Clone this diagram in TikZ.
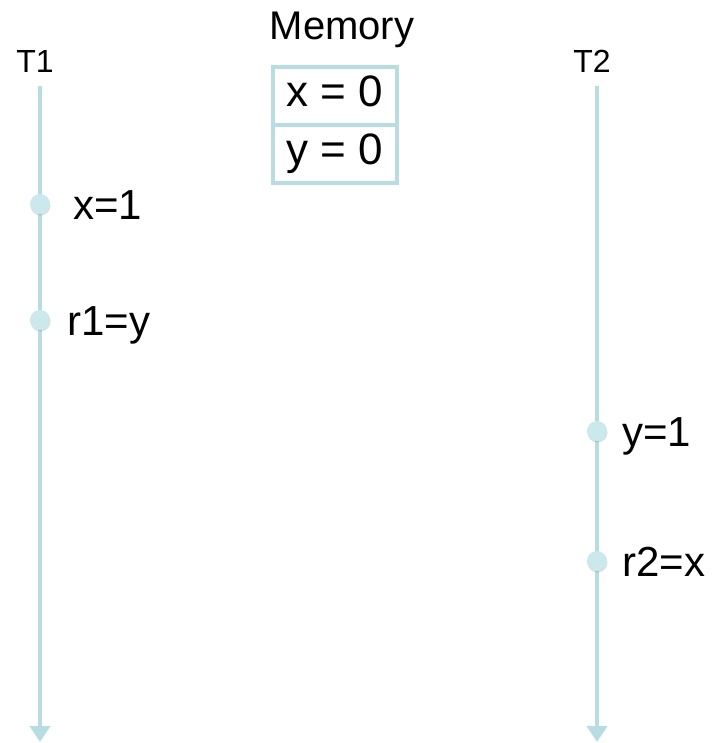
\documentclass[tikz,border=0pt]{standalone}
\usepackage{fontspec}
\setmainfont{Liberation Sans}
\usepackage{tikz}
\usetikzlibrary{positioning,arrows.meta,shadows}
\definecolor{tlteal}{RGB}{183,221,227}
\definecolor{dotteal}{RGB}{203,232,237}

\tikzset{
  tline/.style={tlteal,line width=4pt,-{Triangle[width=20pt,length=16pt]}},
  opdot/.style={circle,fill=dotteal,inner sep=0pt,minimum size=20pt,
    drop shadow={opacity=0.25,shadow xshift=0.5pt,shadow yshift=-1.5pt}},
  oplabel/.style={font=\fontsize{42}{48}\selectfont,inner sep=0pt,anchor=base west},
  thread/.style={font=\fontsize{32}{38}\selectfont,inner sep=0pt,anchor=base},
  memcell/.style={draw=tlteal,line width=4pt,outer sep=0pt,inner sep=0pt,
    minimum width=124pt,minimum height=58pt,text height=32pt,text depth=10pt,
    font=\fontsize{44}{50}\selectfont}
}

\begin{document}
\begin{tikzpicture}[x=1pt,y=-1pt]
      \useasboundingbox (0,0) rectangle (711,743);
      \node[thread] (t1) at (35,73) {T1};
      \node[thread] (t2) at (592,73) {T2};
      \node[font=\fontsize{40}{46}\selectfont,inner sep=0pt,anchor=base] (mem) at (342,40) {Memory};
      \node[memcell] (memx) at (335,96) {x = 0};
      \node[memcell,below=0pt of memx] (memy) {y = 0};
      \coordinate (t1top) at (40,86);
      \coordinate (t1end) at (40,742);
      \coordinate (t2top) at (597,86);
      \coordinate (t2end) at (597,742);
      \draw[tline] (t1top) -- (t1end);
      \draw[tline] (t2top) -- (t2end);
      \node[opdot] (wx) at (40,204) {};
      \node[opdot] (ry) at (40,320) {};
      \node[opdot] (wy) at (597,431) {};
      \node[opdot] (rx) at (597,561) {};
      \node[oplabel] (wxl) at (73,219) {x=1};
      \node[oplabel] (ryl) at (67,335) {r1=y};
      \node[oplabel] (wyl) at (622,446) {y=1};
      \node[oplabel] (rxl) at (622,576) {r2=x};
    \end{tikzpicture}
\end{document}
